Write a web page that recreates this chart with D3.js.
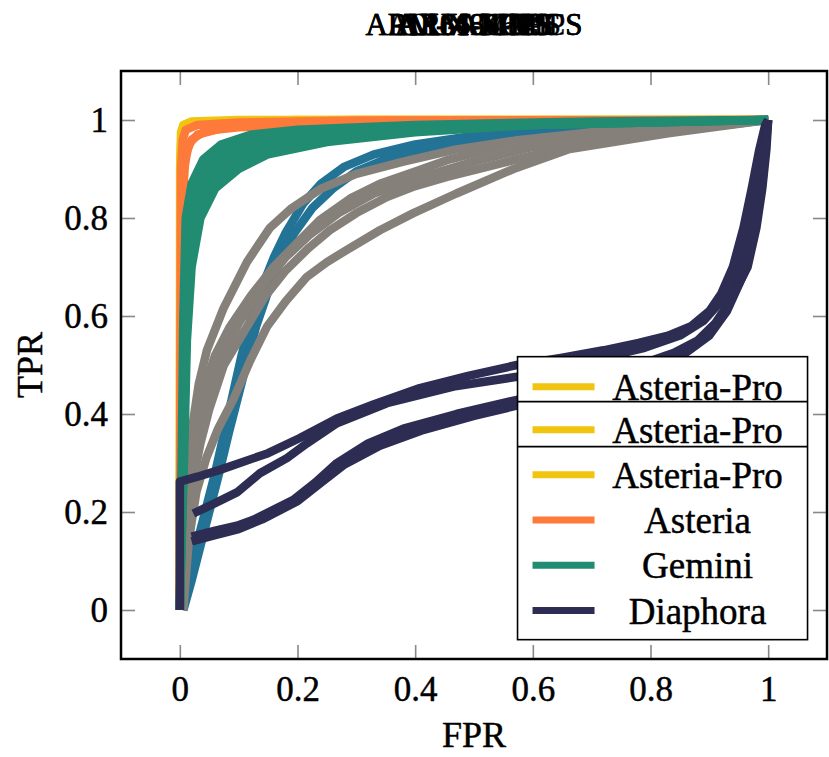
<!DOCTYPE html>
<html>
<head>
<meta charset="utf-8">
<script src="https://cdn.jsdelivr.net/npm/d3@7"></script>
<style>
  body { margin: 0; background: #fff; }
  svg text { font-family: "Liberation Serif", serif; fill: #000; stroke: #000; stroke-width: 0.45; }
  .tick line { stroke: #888; stroke-width: 1.6; }
</style>
</head>
<body>
<svg id="chart"></svg>
<script>
// overlapping subplot titles
const titles = ['ARM-X86-MIPS', 'ARM-X64-PPCS', 'AX86-MIPS', 'ARM-X64S', 'AX64-PPCS', 'ARM-MIPS', 'ALL-ARCHS'];

const legendLabels = ['Asteria-Pro', 'Asteria-Pro', 'Asteria-Pro', 'Asteria', 'Gemini', 'Diaphora'];

const xTicks = [0, 0.2, 0.4, 0.6, 0.8, 1];
const yTicks = [0, 0.2, 0.4, 0.6, 0.8, 1];

// each series is a list of ROC curves, each curve a list of [FPR, TPR]
const asteriaPro = [
  [[0,0],[0.0005,0.9],[0.002,0.975],[0.006,0.99],[0.02,0.997],[0.1,1],[1,1]],
  [[0,0],[0.001,0.92],[0.003,0.97],[0.01,0.988],[0.04,0.996],[0.2,1],[1,1]],
  [[0,0],[0.001,0.88],[0.004,0.965],[0.012,0.985],[0.05,0.995],[0.3,1],[1,1]]
];

const asteria = [
  [[0,0],[0.001,0.5],[0.002,0.9],[0.005,0.96],[0.01,0.98],[0.03,0.99],[0.1,0.995],[0.3,0.999],[1,1]],
  [[0,0],[0.003,0.5],[0.005,0.85],[0.01,0.93],[0.02,0.96],[0.04,0.975],[0.08,0.985],[0.15,0.99],[0.3,0.995],[0.5,0.998],[1,1]],
  [[0,0],[0.004,0.6],[0.007,0.9],[0.015,0.95],[0.03,0.97],[0.06,0.98],[0.1,0.985],[0.2,0.99],[0.4,0.995],[1,1]]
];

const gemini = [
  [[0,0],[0.003,0.3],[0.006,0.6],[0.01,0.8],[0.02,0.87],[0.04,0.92],[0.07,0.95],[0.12,0.97],[0.2,0.98],[0.4,0.99],[0.7,0.997],[1,1]],
  [[0,0],[0.004,0.3],[0.008,0.6],[0.012,0.78],[0.022,0.85],[0.045,0.905],[0.075,0.935],[0.12,0.955],[0.2,0.97],[0.38,0.985],[0.65,0.994],[1,1]],
  [[0,0],[0.005,0.3],[0.01,0.6],[0.015,0.75],[0.025,0.83],[0.05,0.89],[0.08,0.92],[0.12,0.94],[0.2,0.96],[0.35,0.98],[0.6,0.99],[1,1]],
  [[0,0],[0.006,0.3],[0.011,0.57],[0.017,0.72],[0.03,0.815],[0.055,0.875],[0.09,0.91],[0.135,0.935],[0.22,0.958],[0.38,0.978],[0.6,0.99],[1,1]],
  [[0,0],[0.007,0.3],[0.012,0.55],[0.02,0.7],[0.035,0.8],[0.06,0.86],[0.1,0.9],[0.15,0.93],[0.25,0.955],[0.4,0.975],[0.6,0.99],[1,1]]
];

const safe = [
  [[0.004,0],[0.015,0.06],[0.03,0.14],[0.045,0.21],[0.06,0.28],[0.075,0.36],[0.09,0.44],[0.105,0.52],[0.12,0.59],[0.14,0.66],[0.16,0.72],[0.18,0.77],[0.21,0.83],[0.24,0.87],[0.28,0.905],[0.33,0.93],[0.4,0.95],[0.5,0.968],[0.6,0.978],[0.8,0.99],[1,1]],
  [[0.006,0],[0.02,0.06],[0.035,0.13],[0.05,0.2],[0.067,0.28],[0.083,0.36],[0.1,0.44],[0.115,0.51],[0.13,0.58],[0.15,0.65],[0.17,0.71],[0.195,0.77],[0.225,0.82],[0.26,0.86],[0.3,0.895],[0.36,0.925],[0.45,0.95],[0.55,0.965],[0.7,0.98],[0.85,0.99],[1,1]]
];

const other = [
  [[0.003,0],[0.008,0.15],[0.014,0.27],[0.022,0.38],[0.032,0.46],[0.046,0.53],[0.074,0.615],[0.114,0.71],[0.153,0.78],[0.19,0.82],[0.24,0.86],[0.3,0.89],[0.38,0.915],[0.47,0.94],[0.57,0.958],[0.7,0.975],[0.85,0.99],[1,1]],
  [[0.004,0],[0.01,0.15],[0.018,0.27],[0.027,0.36],[0.038,0.44],[0.06,0.52],[0.085,0.578],[0.12,0.64],[0.159,0.7],[0.2,0.75],[0.238,0.796],[0.29,0.84],[0.34,0.87],[0.4,0.895],[0.454,0.918],[0.567,0.952],[0.7,0.975],[0.85,0.99],[1,1]],
  [[0.004,0],[0.012,0.16],[0.02,0.27],[0.03,0.35],[0.045,0.43],[0.07,0.51],[0.1,0.585],[0.14,0.66],[0.18,0.72],[0.22,0.765],[0.27,0.81],[0.33,0.85],[0.4,0.88],[0.5,0.915],[0.6,0.945],[0.75,0.972],[1,1]],
  [[0.005,0],[0.013,0.15],[0.022,0.26],[0.035,0.34],[0.05,0.41],[0.075,0.5],[0.114,0.578],[0.145,0.64],[0.18,0.693],[0.22,0.74],[0.255,0.775],[0.3,0.81],[0.352,0.843],[0.4,0.865],[0.454,0.884],[0.567,0.918],[0.66,0.945],[0.8,0.972],[1,1]],
  [[0.006,0],[0.015,0.14],[0.028,0.24],[0.045,0.31],[0.065,0.37],[0.091,0.43],[0.12,0.51],[0.148,0.578],[0.18,0.63],[0.216,0.68],[0.25,0.71],[0.284,0.735],[0.34,0.775],[0.397,0.81],[0.47,0.85],[0.567,0.9],[0.66,0.94],[0.83,0.973],[1,1]]
];

const diaphora = [
  [[0,0],[0,0.262],[0.03,0.272],[0.068,0.286],[0.097,0.298],[0.15,0.32],[0.204,0.351],[0.267,0.391],[0.33,0.42],[0.408,0.453],[0.49,0.478],[0.573,0.5],[0.65,0.515],[0.72,0.53],[0.78,0.545],[0.83,0.56],[0.87,0.58],[0.9,0.61],[0.92,0.645],[0.94,0.7],[0.958,0.78],[0.972,0.86],[0.985,0.94],[0.995,0.99],[1,1]],
  [[0.023,0.197],[0.06,0.218],[0.097,0.24],[0.136,0.279],[0.182,0.31],[0.216,0.34],[0.267,0.381],[0.352,0.422],[0.465,0.456],[0.573,0.476],[0.65,0.495],[0.72,0.515],[0.79,0.535],[0.85,0.56],[0.89,0.59],[0.92,0.63],[0.952,0.7],[0.97,0.78],[0.982,0.86],[0.992,0.94],[1,1]],
  [[0.02,0.15],[0.06,0.162],[0.097,0.172],[0.125,0.184],[0.193,0.225],[0.23,0.26],[0.267,0.3],[0.32,0.34],[0.38,0.37],[0.47,0.4],[0.573,0.429],[0.65,0.455],[0.72,0.48],[0.78,0.5],[0.84,0.525],[0.88,0.55],[0.91,0.585],[0.935,0.63],[0.965,0.7],[0.98,0.78],[0.99,0.86],[0.997,0.94],[1,1]],
  [[0.02,0.14],[0.06,0.153],[0.1,0.165],[0.14,0.185],[0.2,0.222],[0.24,0.26],[0.28,0.297],[0.34,0.335],[0.41,0.366],[0.5,0.396],[0.6,0.425],[0.68,0.45],[0.75,0.475],[0.81,0.5],[0.86,0.525],[0.9,0.56],[0.93,0.61],[0.96,0.69],[0.978,0.78],[0.99,0.87],[1,1]]
];

class RocChart {

  constructor(_config) {
    this.config = {
      parentElement: _config.parentElement,
      containerWidth: _config.containerWidth || 829,
      containerHeight: _config.containerHeight || 757,
      margin: _config.margin || {top: 71, right: 2, bottom: 98, left: 121},
      tickLength: 14,
      lineWidth: 8.5,
      legendLineWidth: 7
    };
    this.initVis();
  }

  initVis() {
    let vis = this;

    vis.width = vis.config.containerWidth - vis.config.margin.left - vis.config.margin.right;
    vis.height = vis.config.containerHeight - vis.config.margin.top - vis.config.margin.bottom;

    vis.svg = d3.select(vis.config.parentElement)
        .attr('width', vis.config.containerWidth)
        .attr('height', vis.config.containerHeight);

    vis.chart = vis.svg.append('g')
        .attr('transform', `translate(${vis.config.margin.left},${vis.config.margin.top})`);

    // pgfplots style enlarged limits
    vis.xScale = d3.scaleLinear().domain([-0.1, 1.1]).range([0, vis.width]);
    vis.yScale = d3.scaleLinear().domain([-0.1, 1.1]).range([vis.height, 0]);

    vis.line = d3.line()
        .x(d => vis.xScale(d[0]))
        .y(d => vis.yScale(d[1]));

    vis.series = [
      {curves: asteriaPro, color: '#f1c40f'},
      {curves: asteria, color: '#fd7a3b'},
      {curves: safe, color: '#227396'},
      {curves: other, color: '#858079'},
      {curves: gemini, color: '#218c71'},
      {curves: diaphora, color: '#2d2c53'}
    ];
    vis.legendColors = ['#f1c40f', '#f1c40f', '#f1c40f', '#fd7a3b', '#218c71', '#2d2c53'];

    vis.renderVis();
  }

  renderVis() {
    let vis = this;
    const fmt = d3.format('~g');
    const tl = vis.config.tickLength;

    // Axes (ticks point inwards on all four sides)
    vis.chart.append('g')
        .attr('transform', `translate(0,${vis.height})`)
        .call(d3.axisBottom(vis.xScale).tickValues(xTicks).tickSize(-tl).tickPadding(17).tickFormat(fmt));
    vis.chart.append('g')
        .call(d3.axisLeft(vis.yScale).tickValues(yTicks).tickSize(-tl).tickPadding(13).tickFormat(fmt));
    vis.chart.append('g')
        .call(d3.axisTop(vis.xScale).tickValues(xTicks).tickSize(-tl).tickFormat(''));
    vis.chart.append('g')
        .attr('transform', `translate(${vis.width},0)`)
        .call(d3.axisRight(vis.yScale).tickValues(yTicks).tickSize(-tl).tickFormat(''));

    vis.chart.selectAll('.domain').remove();
    vis.chart.selectAll('.tick text')
        .style('font-size', '35px')
        .style('font-family', '"Liberation Serif", serif')
        .attr('fill', '#000');

    // Curves
    vis.series.forEach(s => {
      vis.chart.append('g')
        .selectAll('path')
          .data(s.curves)
        .join('path')
          .attr('d', vis.line)
          .attr('fill', 'none')
          .attr('stroke', s.color)
          .attr('stroke-width', vis.config.lineWidth)
          .attr('stroke-linejoin', 'round');
    });

    // Frame
    vis.chart.append('rect')
        .attr('width', vis.width)
        .attr('height', vis.height)
        .attr('fill', 'none')
        .attr('stroke', '#000')
        .attr('stroke-width', 2.5);

    // Legend (three stacked boxes, like the original)
    const lg = vis.chart.append('g')
        .attr('transform', `translate(${vis.xScale(0.574)},${vis.yScale(0.517)})`);
    const lgW = 290, rowH = 45.3;
    lg.append('rect')
        .attr('width', lgW)
        .attr('height', 283)
        .attr('fill', '#fff')
        .attr('stroke', '#000')
        .attr('stroke-width', 1.6);
    lg.selectAll('.sep')
        .data([45, 90])
      .join('line')
        .attr('class', 'sep')
        .attr('x1', 0).attr('x2', lgW)
        .attr('y1', d => d).attr('y2', d => d)
        .attr('stroke', '#000')
        .attr('stroke-width', 1.6);

    const rows = lg.selectAll('.legend-row')
        .data(legendLabels)
      .join('g')
        .attr('class', 'legend-row')
        .attr('transform', (d, i) => `translate(0,${i < 2 ? 30 + i * 43 : 118 + (i - 2) * rowH})`);
    rows.append('line')
        .attr('x1', 15).attr('x2', 77)
        .attr('stroke', (d, i) => vis.legendColors[i])
        .attr('stroke-width', vis.config.legendLineWidth);
    rows.append('text')
        .attr('x', 180)
        .attr('dy', '0.35em')
        .attr('text-anchor', 'middle')
        .style('font-size', '37px')
        .text(d => d);

    // Axis labels
    vis.chart.append('text')
        .attr('x', vis.width / 2)
        .attr('y', vis.height + 88)
        .attr('text-anchor', 'middle')
        .style('font-size', '36px')
        .text('FPR');
    vis.chart.append('text')
        .attr('transform', `translate(-79,${vis.height / 2}) rotate(-90)`)
        .attr('text-anchor', 'middle')
        .style('font-size', '36px')
        .text('TPR');

    // Titles drawn on top of each other
    vis.svg.selectAll('.chartTitle')
        .data(titles)
      .join('text')
        .attr('class', 'chartTitle')
        .attr('x', vis.config.margin.left + vis.width / 2)
        .attr('y', 35)
        .attr('text-anchor', 'middle')
        .style('font-size', '31px')
        .text(d => d);
  }
}

new RocChart({parentElement: '#chart'});
</script>
</body>
</html>
